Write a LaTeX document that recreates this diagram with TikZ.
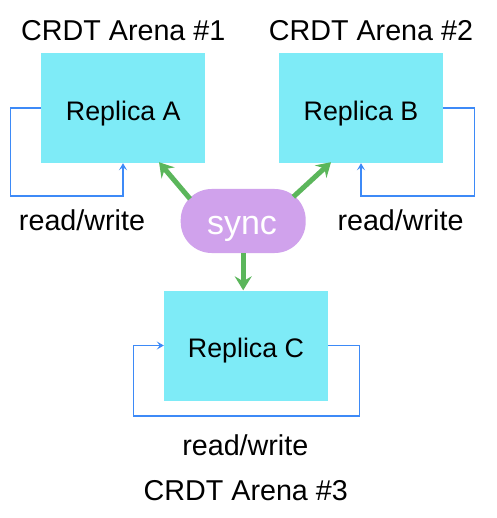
\documentclass[tikz,border=0pt]{standalone}
\usepackage{fontspec}
\setmainfont{Liberation Sans}
\usetikzlibrary{arrows.meta,calc}
\definecolor{boxcyan}{HTML}{7EEBF7}
\definecolor{synclav}{HTML}{D0A2EC}
\definecolor{syncgreen}{HTML}{5BB65B}
\definecolor{rwblue}{HTML}{3D8AF7}
\begin{document}
\begin{tikzpicture}[x=1pt,y=-1pt,
  replica/.style={fill=boxcyan,draw=none,minimum width=164pt,minimum height=110pt,inner sep=0pt},
  syncbox/.style={fill=synclav,draw=none,minimum width=125pt,minimum height=64pt,rounded corners=31pt,inner sep=0pt},
  lbl/.style={anchor=base,inner sep=0pt,font=\fontsize{28.7}{34}\selectfont},
  rlbl/.style={anchor=base,inner sep=0pt,font=\fontsize{26.8}{32}\selectfont},
  slbl/.style={anchor=base,inner sep=0pt,text=white,font=\fontsize{34}{40}\selectfont},
  rw/.style={draw=rwblue,line width=1.3pt,-{Stealth[length=7pt,width=8pt,inset=3pt]}},
  gr/.style={draw=syncgreen,line width=5pt,-{Stealth[length=14pt,width=17pt,inset=5pt]}}
]
\useasboundingbox (0,0) rectangle (496,518);
\fill[white] (0,0) rectangle (496,518);
\node[replica] (A) at (123,108) {};
\node[replica] (B) at (361,108) {};
\node[replica] (C) at (246,345.5) {};
\node[syncbox] (S) at (243.2,221) {};
\node[rlbl] (tA) at (123.3,121) {Replica A};
\node[rlbl] (tB) at (361,121) {Replica B};
\node[rlbl] (tC) at (246,357.3) {Replica C};
\node[slbl] (tS) at (242,234) {sync};
\node[lbl] (arena1) at (123.3,41) {CRDT Arena \#1};
\node[lbl] (arena2) at (371,41) {CRDT Arena \#2};
\node[lbl] (arena3) at (245.8,500) {CRDT Arena \#3};
\node[lbl] (rwA) at (82,230) {read/write};
\node[lbl] (rwB) at (400.5,230) {read/write};
\node[lbl] (rwC) at (245.3,455.7) {read/write};
% read/write loops
\draw[rw] (A.west) -- ++(-30,0) -- ++(0,88) -| (A.south);
\draw[rw] (B.east) -- ++(31,0) -- ++(0,88) -| (B.south);
\draw[rw] (C.east) -- ++(31,0) -- ++(0,70.5) -- ++(-226,0) |- (C.west);
% sync arrows
\draw[gr] ([shift={(9.5,10)}]S.north west) -- ([xshift=36pt,yshift=1pt]A.south);
\draw[gr] ([shift={(-12.5,8)}]S.north east) -- ([xshift=-30pt,yshift=1pt]B.south);
\draw[gr] (S.south) -- (S.south |- C.north);
\end{tikzpicture}
\end{document}
